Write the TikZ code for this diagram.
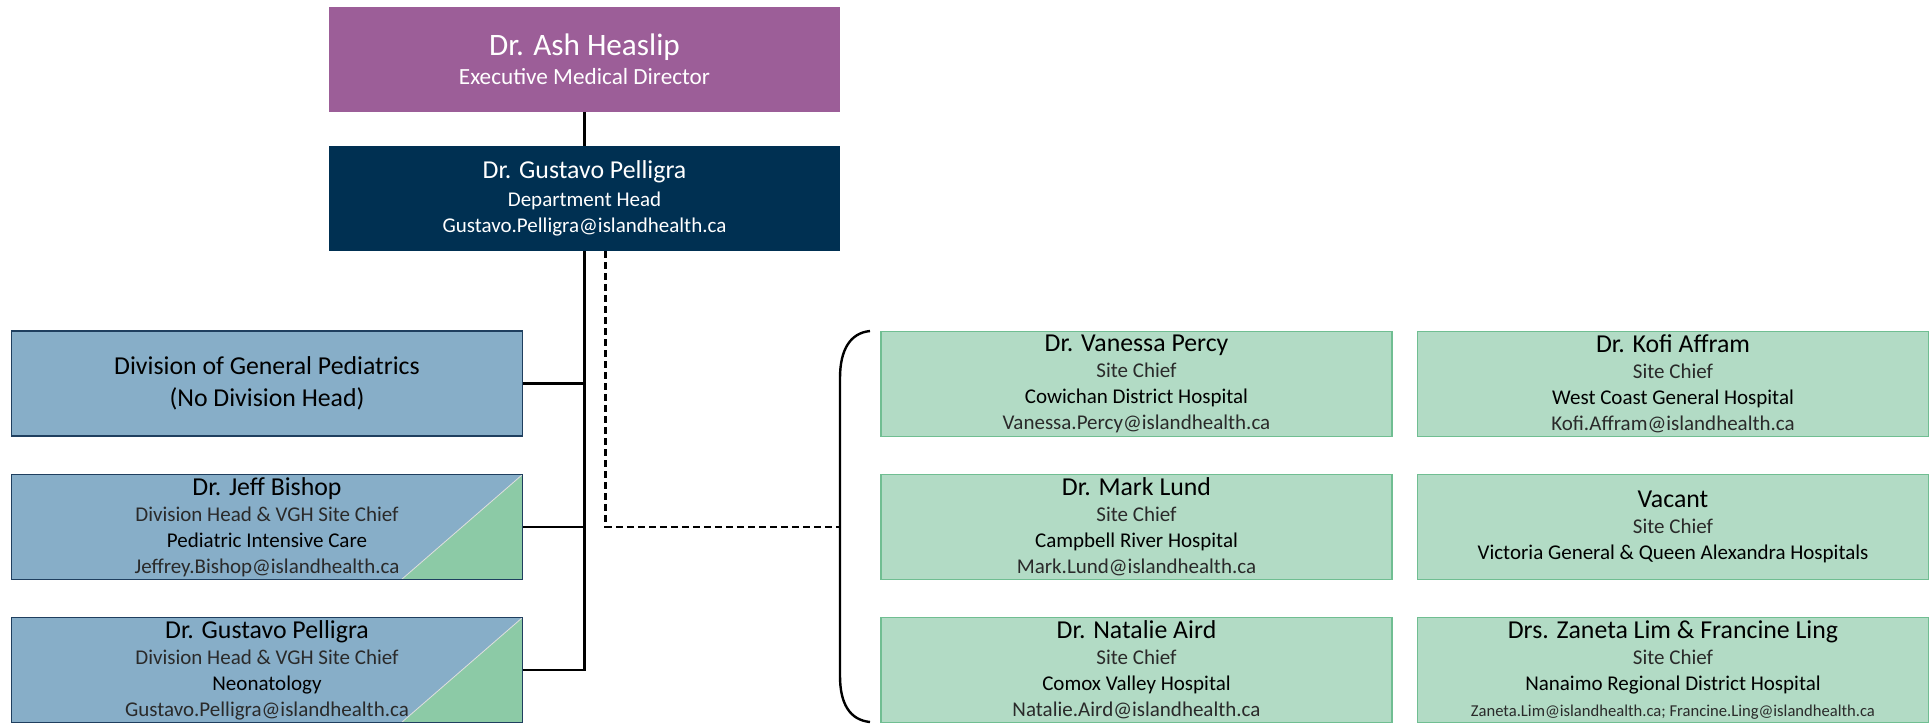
\documentclass[tikz,border=0pt]{standalone}
\usepackage{fontspec}
\setmainfont{Carlito}

\definecolor{execpurple}{HTML}{9C5E98}
\definecolor{deptnavy}{HTML}{003052}
\definecolor{divblue}{HTML}{87AEC8}
\definecolor{divborder}{HTML}{1F3F5F}
\definecolor{splitgreen}{HTML}{8CCAA6}
\definecolor{sitegreen}{HTML}{B2DBC5}
\definecolor{siteborder}{HTML}{70BE92}
\definecolor{lighttext}{HTML}{2A2A2A}

\newcommand{\pname}{\fontsize{12.9}{15}\selectfont}
\newcommand{\ptitle}{\fontsize{15.6}{18}\selectfont}
\newcommand{\plight}{\color{lighttext}}

\tikzset{
  chartbox/.style={minimum width=255.5pt, minimum height=52.5pt, inner sep=0pt,
    align=center, font=\fontsize{10.5}{13}\selectfont},
  headbox/.style={chartbox, fill=execpurple, text=white},
  deptbox/.style={chartbox, fill=deptnavy, text=white},
  divbox/.style={chartbox, fill=divblue, draw=divborder, line width=0.6pt},
  splitbox/.style={divbox, path picture={
      \fill[splitgreen] (path picture bounding box.south east) -- ++(-60.5pt,0)
        -- (path picture bounding box.north east) -- cycle;
      \draw[white!75!gray, line width=0.4pt] (path picture bounding box.south east) ++(-60.5pt,0)
        -- (path picture bounding box.north east);}},
  sitebox/.style={chartbox, fill=sitegreen, draw=siteborder, line width=0.6pt},
  link/.style={line width=1.2pt},
  dashlink/.style={link, dash pattern=on 3.5pt off 2pt},
}

\begin{document}
\begin{tikzpicture}[x=0.5pt,y=-0.5pt]
    \useasboundingbox (0,0) rectangle (1932,725);
    % top of the chart
    \node[headbox] (head) at (584.5,59) {{\ptitle Dr. Ash Heaslip}\\[1.5pt] \fontsize{11.6}{13}\selectfont Executive Medical Director};
    \node[deptbox] (dept) at (584.5,198.5) {{\pname Dr. Gustavo Pelligra}\\[1pt] Department Head\\ Gustavo.Pelligra@islandhealth.ca};

    % divisions
    \node[divbox] (general) at (267,383.5) {\pname Division of General Pediatrics\\[3pt] \pname (No Division Head)};
    \node[splitbox] (jeff) at (267,527) {{\pname Dr. Jeff Bishop}\\ {\plight Division Head \& VGH Site Chief}\\ Pediatric Intensive Care\\ {\plight Jeffrey.Bishop@islandhealth.ca}};
    \node[splitbox] (gus) at (267,670) {{\pname Dr. Gustavo Pelligra}\\ {\plight Division Head \& VGH Site Chief}\\ Neonatology\\ {\plight Gustavo.Pelligra@islandhealth.ca}};

    % site chiefs
    \node[sitebox] (percy) at (1136.5,384) {{\pname Dr. Vanessa Percy}\\ {\plight Site Chief}\\ Cowichan District Hospital\\ {\plight Vanessa.Percy@islandhealth.ca}};
    \node[sitebox] (affram) at (1673,384) {{\pname Dr. Kofi Affram}\\ {\plight Site Chief}\\ West Coast General Hospital\\ {\plight Kofi.Affram@islandhealth.ca}};
    \node[sitebox] (lund) at (1136.5,527) {{\pname Dr. Mark Lund}\\ {\plight Site Chief}\\ Campbell River Hospital\\ {\plight Mark.Lund@islandhealth.ca}};
    \node[sitebox] (vacant) at (1673,527) {{\pname Vacant}\\ {\plight Site Chief}\\ Victoria General \& Queen Alexandra Hospitals};
    \node[sitebox] (aird) at (1136.5,670) {{\pname Dr. Natalie Aird}\\ {\plight Site Chief}\\ Comox Valley Hospital\\ {\plight Natalie.Aird@islandhealth.ca}};
    \node[sitebox] (limling) at (1673,670) {{\pname Drs. Zaneta Lim \& Francine Ling}\\ {\plight Site Chief}\\ Nanaimo Regional District Hospital\\ {\plight\fontsize{8.3}{10}\selectfont Zaneta.Lim@islandhealth.ca; Francine.Ling@islandhealth.ca}};

    % connectors
    \draw[link] (head) -- (dept);
    \draw[link] (dept.south) |- (gus.east);
    \draw[link] (general.east) -- (general.east -| dept.south);
    \draw[link] (jeff.east) -- (jeff.east -| dept.south);

    % brace round the site chiefs
    \coordinate (bracemid) at (840,527);
    \draw[link] (870,331) .. controls (850,333) and (840,350) .. (840,378) -- (840,676) .. controls (840,704) and (850,720) .. (870,722);
    \draw[dashlink] ([xshift=10.5pt]dept.south) |- (bracemid);
\end{tikzpicture}
\end{document}
